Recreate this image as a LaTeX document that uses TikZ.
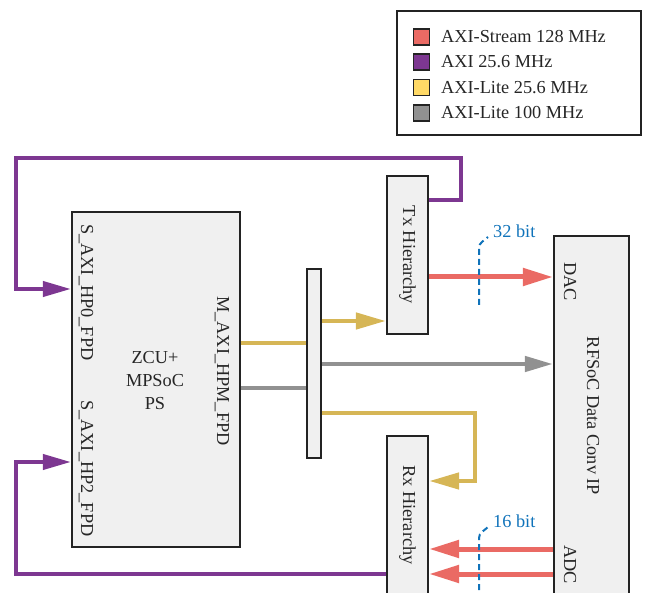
\documentclass[tikz,border=0pt]{standalone}
\usepackage{fontspec}
\setmainfont{Liberation Serif}
\usetikzlibrary{arrows.meta}
\definecolor{cred}{RGB}{234,106,100}
\definecolor{cpur}{RGB}{125,55,145}
\definecolor{cyel}{RGB}{214,182,86}
\definecolor{cyell}{RGB}{255,217,102}
\definecolor{cgray}{RGB}{145,145,145}
\definecolor{cfill}{RGB}{240,240,240}
\definecolor{cedge}{RGB}{35,35,35}
\definecolor{cblue}{RGB}{16,115,186}
\tikzset{
  box/.style={draw=cedge, line width=2.2pt, fill=cfill, inner sep=0pt},
  lbl/.style={font=\fontsize{18.3}{23}\selectfont, text=black!85, inner sep=0pt},
  rlbl/.style={lbl, rotate=-90},
  swatch/.style={draw=cedge, line width=1.6pt, minimum width=16pt, minimum height=16pt, inner sep=0pt},
  redw/.style={draw=cred, line width=5pt, -{Triangle[length=30pt,width=17pt]}},
  purw/.style={draw=cpur, line width=4pt, -{Triangle[length=28pt,width=15pt]}},
  yelw/.style={draw=cyel, line width=4.5pt, -{Triangle[length=30pt,width=16pt]}},
  grayw/.style={draw=cgray, line width=4.5pt, -{Triangle[length=28pt,width=15pt]}},
  yelp/.style={draw=cyel, line width=4.5pt},
  grayp/.style={draw=cgray, line width=4.5pt},
  purp/.style={draw=cpur, line width=4pt},
  width/.style={draw=cblue, line width=2pt, dashed, dash pattern=on 6pt off 4pt},
  wtxt/.style={text=cblue, font=\fontsize{18.3}{20}\selectfont, inner sep=0pt, anchor=west},
}
\begin{document}
\begin{tikzpicture}[x=1pt,y=-1pt]
\useasboundingbox (0,0) rectangle (651,593);
% legend
\node[draw=cedge, line width=1.8pt, minimum width=244pt, minimum height=124pt, inner sep=0pt] (leg) at (519,73) {};
\node[swatch, fill=cred] (s1) at (421.5,37) {};
\node[swatch, fill=cpur] (s2) at (421.5,62) {};
\node[swatch, fill=cyell] (s3) at (421.5,87.5) {};
\node[swatch, fill=cgray] (s4) at (421.5,113) {};
\node[lbl, anchor=west] (t1) at (441,37) {AXI-Stream 128 MHz};
\node[lbl, anchor=west] (t2) at (441,62) {AXI 25.6 MHz};
\node[lbl, anchor=west] (t3) at (441,87.5) {AXI-Lite 25.6 MHz};
\node[lbl, anchor=west] (t4) at (441,113) {AXI-Lite 100 MHz};
% boxes
\node[box, minimum width=168pt, minimum height=335pt] (ps) at (156,379.5) {};
\node[box, minimum width=14pt, minimum height=189pt] (bus) at (314,363.5) {};
\node[box, minimum width=41pt, minimum height=158pt] (tx) at (407.5,255) {};
\node[box, minimum width=41pt, minimum height=170pt] (rx) at (407.5,521) {};
\node[box, minimum width=75pt, minimum height=370pt] (rf) at (591.5,421) {};
% labels
\node[rlbl, anchor=west] (l1) at (86,224) {S\_AXI\_HP0\_FPD};
\node[rlbl, anchor=west] (l2) at (86,400) {S\_AXI\_HP2\_FPD};
\node[rlbl, anchor=west] (l3) at (222,296) {M\_AXI\_HPM\_FPD};
\node[lbl, align=center] (l4) at (155,381) {ZCU+\\MPSoC\\PS};
\node[rlbl] (l5) at (407.5,255) {Tx Hierarchy};
\node[rlbl] (l6) at (407.5,515) {Rx Hierarchy};
\node[rlbl] (l7) at (593,416) {RFSoC Data Conv IP};
\node[rlbl, anchor=west] (l8) at (570,262) {DAC};
\node[rlbl, anchor=west] (l9) at (570,545) {ADC};
% purple loops
\coordinate (p1) at (461,200);
\coordinate (p2) at (461,158);
\coordinate (p3) at (16,158);
\coordinate (p4) at (16,289);
\draw[purw] (tx.east |- p1) -- (p1) -- (p2) -- (p3) -- (p4) -- (ps.west |- p4);
\coordinate (q1) at (16,574);
\coordinate (q2) at (16,462);
\draw[purw] (rx.west |- q1) -- (q1) -- (q2) -- (ps.west |- q2);
% PS to bus
\draw[yelp] (ps.east |- 0,343) -- (bus.west |- 0,343);
\draw[grayp] (ps.east |- 0,388) -- (bus.west |- 0,388);
% bus out
\draw[yelw] (bus.east |- 0,321) -- (tx.west |- 0,321);
\draw[grayw] (bus.east |- 0,364) -- (rf.west |- 0,364);
\coordinate (y1) at (475,413);
\coordinate (y2) at (475,481);
\draw[yelw] (bus.east |- y1) -- (y1) -- (y2) -- (rx.east |- y2);
% red
\draw[redw] (tx.east |- 0,277) -- (rf.west |- 0,277);
\draw[redw] (rf.west |- 0,549) -- (rx.east |- 0,549);
\draw[redw] (rf.west |- 0,574) -- (rx.east |- 0,574);
% width markers
\coordinate (w1) at (488,237);
\draw[width] (479,305) -- (479,248) to[out=90,in=225] (w1);
\node[wtxt] (wt1) at (493,231) {32 bit};
\coordinate (w2) at (488,527);
\draw[width] (479,600) -- (479,538) to[out=90,in=225] (w2);
\node[wtxt] (wt2) at (493,521) {16 bit};
\end{tikzpicture}
\end{document}
